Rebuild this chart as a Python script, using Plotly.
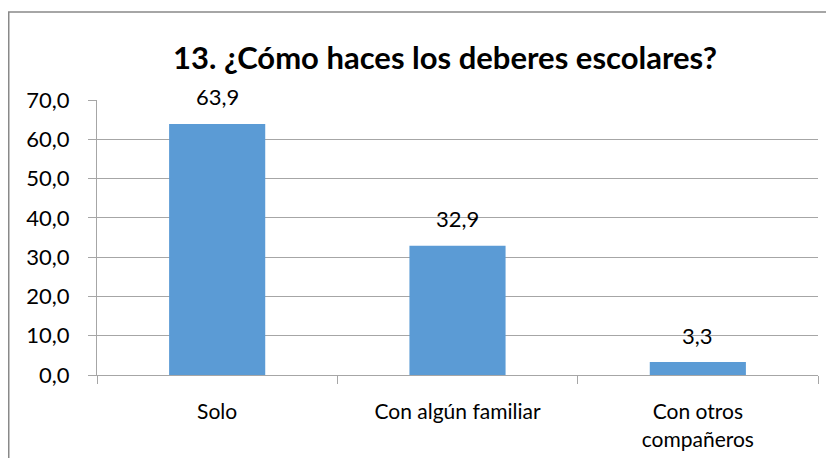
import plotly.graph_objects as go

categories = ["Solo", "Con algún familiar", "Con otros<br>compañeros"]
values = [63.9, 32.9, 3.3]
y_ticks = [0, 10, 20, 30, 40, 50, 60, 70]
title_text = "13. ¿Cómo haces los deberes escolares?"

FONT = "Lato"
GRID = "#a6a6a6"
OFF = 8  # page body margin

W, H = 834 - 2 * OFF, 466 - 2 * OFF
L, T = 97 - OFF, 100 - OFF
R, B = (834 - OFF) - 818, (466 - OFF) - 375
PW, PH = W - L - R, H - T - B

fig = go.Figure()
fig.add_trace(go.Bar(
    x=categories, y=values,
    marker=dict(color="#5b9bd5", line=dict(width=0)),
    hoverinfo="skip",
))

for c, v in zip(categories, values):
    fig.add_annotation(
        x=c, y=v, xref="x", yref="y",
        text=f"{v:.1f}".replace(".", ","),
        showarrow=False, yanchor="middle", yshift=27,
        font=dict(family=FONT, size=22, color="#000000"),
    )

fig.update_layout(
    width=W, height=H,
    margin=dict(l=L, r=R, t=T, b=B),
    paper_bgcolor="white", plot_bgcolor="white",
    separators=",.",
    bargap=0.6,
    showlegend=False,
    title=dict(
        text=f"<b>{title_text}</b>",
        x=(445 - 97) / PW, xref="paper", xanchor="center",
        y=1 - (58 - OFF) / H, yref="container", yanchor="middle",
        font=dict(family=FONT, size=31, color="#000000"),
    ),
    font=dict(family=FONT, size=21, color="#000000"),
    xaxis=dict(
        type="category",
        tickson="boundaries",
        ticks="outside", ticklen=8, tickcolor=GRID, tickwidth=1,
        showline=True, linecolor=GRID, linewidth=1,
        showgrid=False,
        ticklabelstandoff=18,
        tickfont=dict(family=FONT, size=21),
    ),
    yaxis=dict(
        range=[0, 70],
        tickvals=y_ticks,
        tickformat=".1f",
        ticks="outside", ticklen=8, tickcolor=GRID, tickwidth=1,
        showline=True, linecolor=GRID, linewidth=1,
        showgrid=True, gridcolor=GRID, gridwidth=1,
        zeroline=False,
        ticklabelstandoff=14,
        tickfont=dict(family=FONT, size=22),
    ),
)

fig.add_shape(
    type="rect", xref="paper", yref="paper",
    x0=(0.75 - L) / PW, x1=(W + 3 - L) / PW,
    y0=(PH + T - (H + 20)) / PH, y1=(PH + T - (12 - OFF)) / PH,
    line=dict(color="#898989", width=1.5),
    fillcolor="rgba(0,0,0,0)", layer="above",
)

fig.write_html("out.html")
